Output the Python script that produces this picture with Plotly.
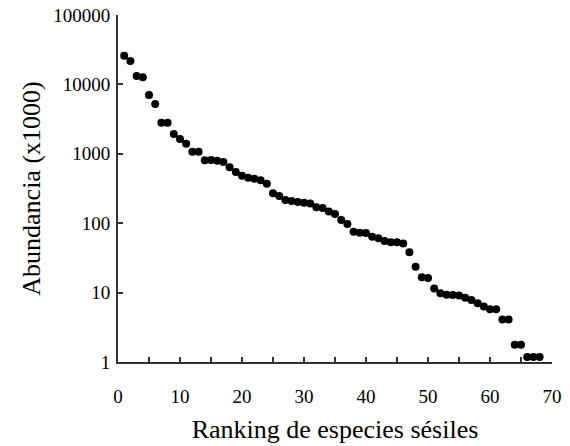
import plotly.graph_objects as go

ranking = list(range(1, 69))
abundancia = [
    25900, 21700, 13200, 12700, 7030, 5220, 2800, 2800, 1930, 1630,
    1400, 1070, 1070, 805, 815, 795, 762, 638, 547, 483,
    453, 438, 415, 371, 270, 247, 216, 209, 202, 197,
    193, 170, 166, 147, 136, 111, 97, 75, 73, 72,
    64, 60.5, 55.4, 53, 53, 51, 38, 23.6, 16.6, 16.2,
    11.5, 9.8, 9.3, 9.2, 9.1, 8.45, 7.8, 7.0, 6.3, 5.75,
    5.75, 4.1, 4.1, 1.77, 1.77, 1.18, 1.18, 1.18,
]
y_ticks = [1, 10, 100, 1000, 10000, 100000]
y_ticklabels = ["1", "10", "100", "1000", "10000", "100000"]
x_ticks = list(range(0, 71, 5))
x_ticklabels = [str(v) if v % 10 == 0 else "" for v in x_ticks]

font = "Liberation Serif"

fig = go.Figure()
fig.add_trace(go.Scatter(
    x=ranking, y=abundancia, mode="markers",
    marker=dict(color="black", size=8, line=dict(width=0)),
    showlegend=False, cliponaxis=False,
))

fig.update_layout(
    width=570, height=446,
    margin=dict(l=118, r=18, t=15, b=84, autoexpand=False),
    paper_bgcolor="white", plot_bgcolor="white",
    font=dict(family=font, color="black", size=19),
)
fig.update_xaxes(
    range=[0, 70], tickvals=x_ticks, ticktext=x_ticklabels, automargin=False,
    ticks="inside", ticklen=5, tickwidth=1.5, tickcolor="#333",
    showline=True, linecolor="#333", linewidth=2, showgrid=False, zeroline=False,
    tickfont=dict(family=font, size=19), ticklabelstandoff=16,
    title=dict(text="Ranking de especies sésiles", font=dict(family=font, size=26), standoff=14),
)
fig.update_yaxes(
    type="log", range=[0, 5], tickvals=y_ticks, ticktext=y_ticklabels, automargin=False,
    ticks="inside", ticklen=5, tickwidth=1.5, tickcolor="#333",
    showline=True, linecolor="#333", linewidth=2, showgrid=False, zeroline=False,
    tickfont=dict(family=font, size=19), ticklabelstandoff=2,
    title=dict(text="Abundancia (x1000)", font=dict(family=font, size=26), standoff=5),
)

fig.write_html("out.html")
